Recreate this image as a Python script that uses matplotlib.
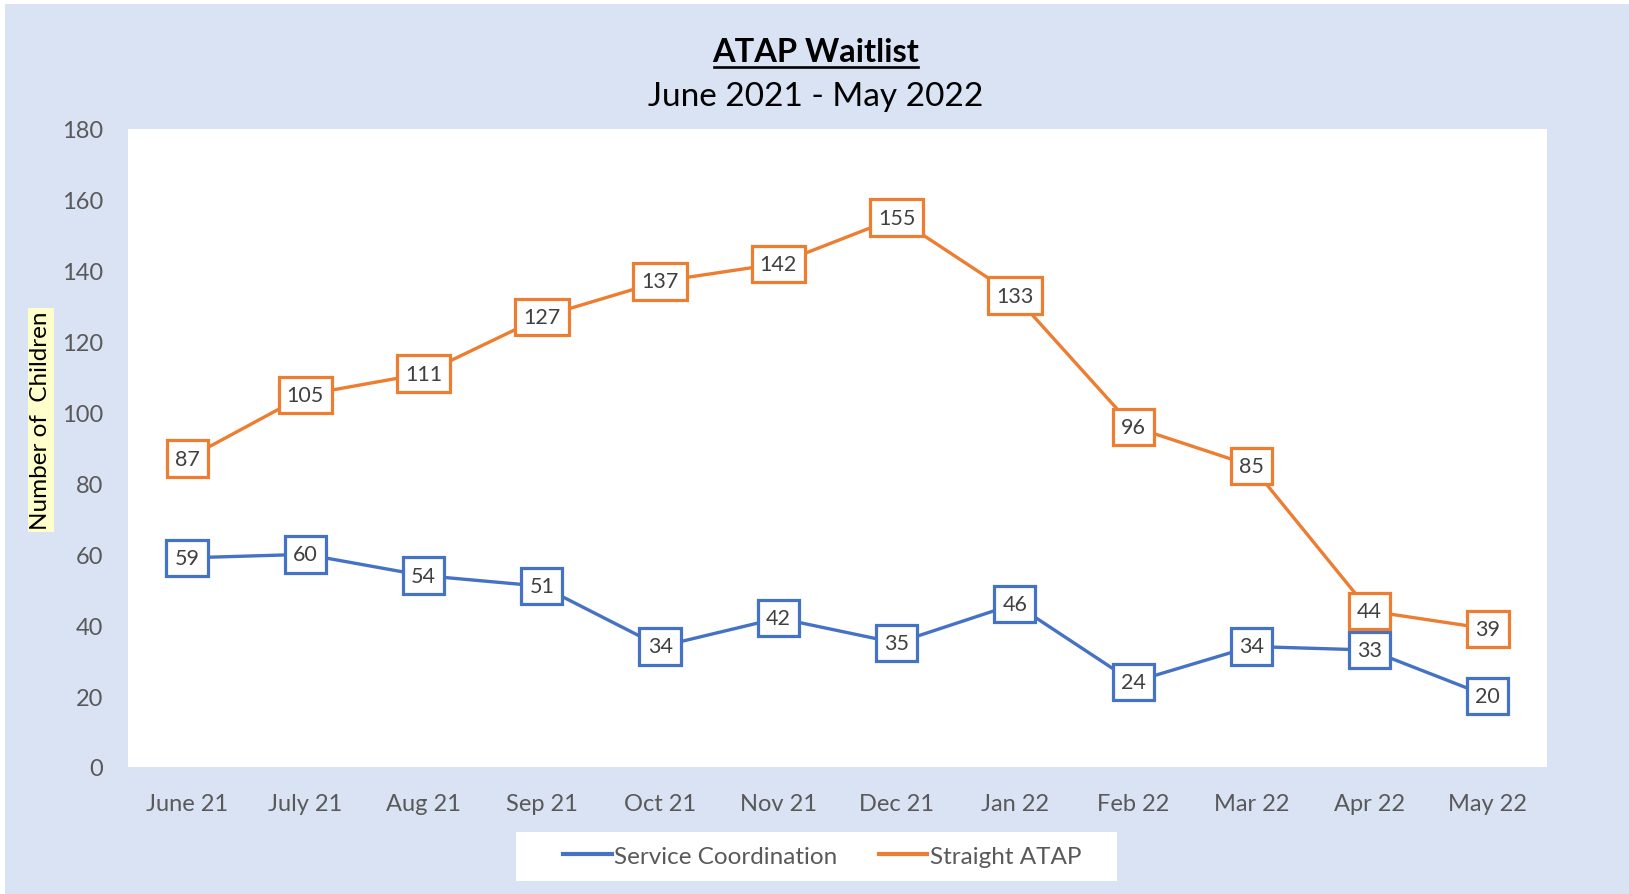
import matplotlib
matplotlib.use("Agg")
import matplotlib.pyplot as plt
from matplotlib.patches import Rectangle

months = ["June 21", "July 21", "Aug 21", "Sep 21", "Oct 21", "Nov 21", "Dec 21",
          "Jan 22", "Feb 22", "Mar 22", "Apr 22", "May 22"]
service_coord = [59, 60, 54, 51, 34, 42, 35, 46, 24, 34, 33, 20]
straight_atap = [87, 105, 111, 127, 137, 142, 155, 133, 96, 85, 44, 39]
yticks = list(range(0, 181, 20))

plt.rcParams['font.family'] = ['Lato', 'DejaVu Sans']

W, H = 1629, 895
fig = plt.figure(figsize=(W / 100, H / 100), dpi=100)
fig.patch.set_facecolor("white")
bg = Rectangle((5 / W, 0), 1 - 5 / W, 1 - 5 / H, transform=fig.transFigure,
               facecolor="#DAE3F3", edgecolor="none", zorder=-10)
fig.patches.append(bg)
legbg = Rectangle((516 / W, 1 - 882 / H), (1117 - 516) / W, (882 - 833) / H,
                  transform=fig.transFigure, facecolor="white", edgecolor="none", zorder=-5)
fig.patches.append(legbg)

ax = fig.add_axes([128 / W, 1 - 768 / H, (1547 - 128) / W, (768 - 130) / H])
ax.set_facecolor("white")
for s in ax.spines.values():
    s.set_visible(False)

x = list(range(len(months)))
blue = "#4472C4"
orange = "#ED7D31"
ax.plot(x, service_coord, color=blue, lw=2.4, label="Service Coordination", zorder=2)
ax.plot(x, straight_atap, color=orange, lw=2.4, label="Straight ATAP", zorder=2)

for xs, ys, c in [(x, service_coord, blue), (x, straight_atap, orange)]:
    for xi, yi in zip(xs, ys):
        ax.text(xi, yi, str(yi), ha="center", va="center", fontsize=15.5, color="#404040",
                zorder=3,
                bbox=dict(boxstyle="square,pad=0.38", facecolor="white", edgecolor=c, lw=2.3))

ax.set_xlim(-0.5, len(months) - 0.5)
ax.set_ylim(0, 180)
ax.set_yticks(yticks)
ax.set_xticks(x)
ax.set_xticklabels(months)
ax.tick_params(axis="both", length=0, labelsize=17, labelcolor="#595959")
ax.tick_params(axis="x", pad=19)
ax.tick_params(axis="y", pad=18)

fig.text(816 / W, 1 - 52 / H, "ATAP Waitlist", ha="center", va="center",
         fontsize=23.5, fontweight="bold", color="black")
# underline
fig.add_artist(plt.Line2D([714 / W, 918 / W], [1 - 68 / H, 1 - 68 / H], color="black", lw=1.9))
fig.text(816 / W, 1 - 97 / H, "June 2021 - May 2022", ha="center", va="center",
         fontsize=24, color="black")

fig.text(41 / W, 1 - 421 / H, "Number of  Children", rotation=90, ha="center", va="center",
         fontsize=17.5, color="black",
         bbox=dict(boxstyle="square,pad=0.12", facecolor="#FFFFCC", edgecolor="none"))

leg = ax.legend(loc="center", bbox_to_anchor=(822 / W, 1 - 857 / H),
                bbox_transform=fig.transFigure, ncol=2, frameon=False,
                fontsize=17.5, handlelength=2.0, handletextpad=0.1, columnspacing=1.7,
                borderpad=0.3, borderaxespad=0)
for t in leg.get_texts():
    t.set_color("#595959")
for l in leg.get_lines():
    l.set_linewidth(3)

fig.savefig("out.png", dpi=100, facecolor=fig.get_facecolor())
